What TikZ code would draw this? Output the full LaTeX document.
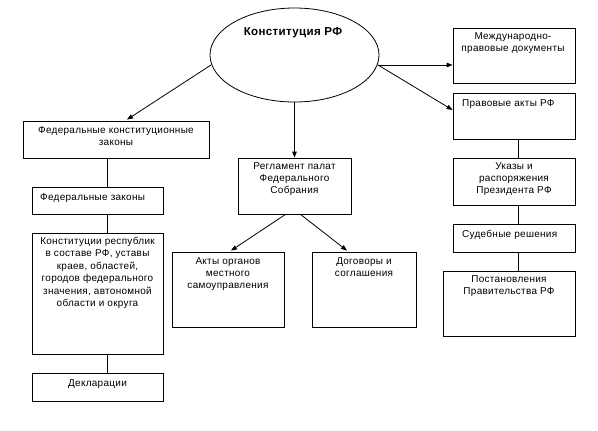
\documentclass[tikz,border=0pt]{standalone}
\usepackage{fontspec}
\setmainfont[LetterSpace=3]{Liberation Sans}
\usetikzlibrary{arrows.meta,calc,shapes.geometric}
\begin{document}
\begin{tikzpicture}[x=1bp,y=-1bp,
  box/.style={draw,line width=0.8bp,rectangle,inner sep=0pt},
  txt/.style={inner sep=0pt,align=center,font=\fontsize{10}{12.5}\selectfont,anchor=north},
  ltxt/.style={inner sep=0pt,align=left,font=\fontsize{10}{12.5}\selectfont,anchor=west},
  arr/.style={line width=0.8bp,-{Triangle[length=6bp,width=4.5bp]}},
  ln/.style={line width=0.8bp}]
\useasboundingbox (0,0) rectangle (598,430);
\fill[white] (0,0) rectangle (598,430);
% ellipse
\node[draw,line width=0.8bp,ellipse,minimum width=169bp,minimum height=94bp,inner sep=0pt] (ell) at (294.5,55) {};
\node[inner sep=0pt,font=\fontsize{11.6}{13}\selectfont\bfseries] (title) at (293,33) {Конституция РФ};
% boxes
\node[box,minimum width=186bp,minimum height=37bp] (fkz) at (116,139.5) {};
\node[box,minimum width=131bp,minimum height=27bp] (fz) at (97.5,200.5) {};
\node[box,minimum width=131bp,minimum height=121bp] (kr) at (97.5,293.5) {};
\node[box,minimum width=131bp,minimum height=28bp] (dek) at (97.5,387) {};
\node[box,minimum width=113bp,minimum height=56bp] (reg) at (294.5,186) {};
\node[box,minimum width=112bp,minimum height=75bp] (akty) at (228,289.5) {};
\node[box,minimum width=104bp,minimum height=75bp] (dog) at (364,289.5) {};
\node[box,minimum width=122bp,minimum height=55bp] (mp) at (514,55.5) {};
\node[box,minimum width=122bp,minimum height=46bp] (pa) at (514,116) {};
\node[box,minimum width=122bp,minimum height=47bp] (uk) at (514,181.5) {};
\node[box,minimum width=122bp,minimum height=28bp] (sr) at (514,238) {};
\node[box,minimum width=132bp,minimum height=65bp] (post) at (509,303.5) {};
% texts
\node[txt] (tfkz) at (116,126) {Федеральные конституционные\\законы};
\node[ltxt] (tfz) at (40,198) {Федеральные законы};
\node[txt] (tkr) at (97.5,237) {Конституции республик\\в составе РФ, уставы\\краев, областей,\\городов федерального\\значения, автономной\\области и округа};
\node[inner sep=0pt,font=\fontsize{10}{12.5}\selectfont] (tdek) at (97.5,384) {Декларации};
\node[txt] (treg) at (294.5,162) {Регламент палат\\Федерального\\Собрания};
\node[txt] (takty) at (228,257) {Акты органов\\местного\\самоуправления};
\node[txt] (tdog) at (364,257) {Договоры и\\соглашения};
\node[txt] (tmp) at (513,32) {Международно-\\правовые документы};
\node[ltxt] (tpa) at (462,104) {Правовые акты РФ};
\node[txt] (tuk) at (514,162) {Указы и\\распоряжения\\Президента РФ};
\node[ltxt] (tsr) at (462,235) {Судебные решения};
\node[txt] (tpost) at (509,275) {Постановления\\Правительства РФ};
% connectors
\coordinate (lc) at (107,0);
\coordinate (rc) at (518,0);
\coordinate (er) at (378,65);
\coordinate (el) at (211,65);
\draw[arr] (el) -- ($(fkz.north)+(11,-1)$);
\draw[arr] (ell.south) -- (reg.north);
\draw[arr] (er) -- (er -| mp.west);
\draw[arr] (er) -- ($(pa.west)+(0,-6)$);
\draw[arr] ($(reg.south)+(-9,0)$) -- ($(akty.north)+(3,-1)$);
\draw[arr] ($(reg.south)+(6,0)$) -- ($(dog.north)+(-17,-1)$);
\draw[ln] (fkz.south -| lc) -- (fz.north -| lc);
\draw[ln] (fz.south -| lc) -- (kr.north -| lc);
\draw[ln] (kr.south -| lc) -- (dek.north -| lc);
\draw[ln] (pa.south -| rc) -- (uk.north -| rc);
\draw[ln] (uk.south -| rc) -- (sr.north -| rc);
\draw[ln] (sr.south -| rc) -- (post.north -| rc);
\end{tikzpicture}
\end{document}
